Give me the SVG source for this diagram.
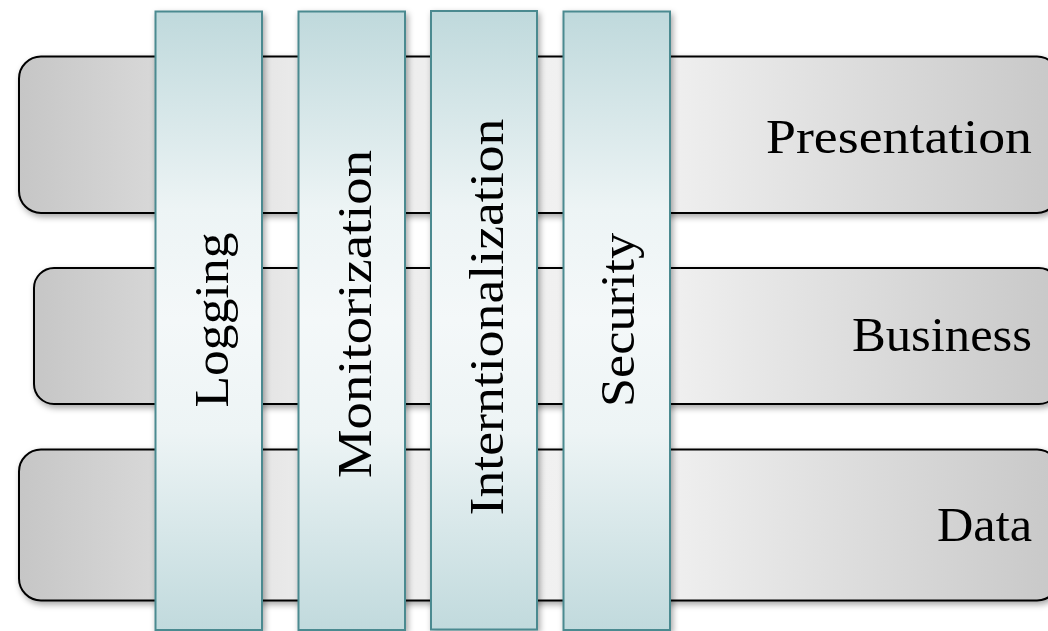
<svg xmlns="http://www.w3.org/2000/svg" width="1048" height="631" viewBox="0 0 1048 631">
  <style>
    .layer { fill: url(#grayGrad); stroke: #000; stroke-width: 2; filter: url(#shadow); }
    .bar { fill: url(#barGrad); stroke: #4b8a90; stroke-width: 2; filter: url(#shadow); }
    .lbl { font-family: "Liberation Serif", "Times New Roman", serif; font-size: 49px; fill: #000; }
  </style>
  <defs>
    <linearGradient id="grayGrad" x1="0" y1="0" x2="1" y2="0">
      <stop offset="0" stop-color="#c6c6c6"/>
      <stop offset="0.28" stop-color="#ececec"/>
      <stop offset="0.6" stop-color="#f2f2f2"/>
      <stop offset="1" stop-color="#c8c8c8"/>
    </linearGradient>
    <linearGradient id="barGrad" x1="0" y1="0" x2="0" y2="1">
      <stop offset="0" stop-color="#bfd9dc"/>
      <stop offset="0.32" stop-color="#edf4f5"/>
      <stop offset="0.5" stop-color="#f4f8f9"/>
      <stop offset="0.68" stop-color="#edf4f5"/>
      <stop offset="1" stop-color="#c1dadd"/>
    </linearGradient>
    <filter id="shadow" x="-10%" y="-10%" width="130%" height="130%">
      <feDropShadow dx="2" dy="3" stdDeviation="3" flood-color="#000" flood-opacity="0.35"/>
    </filter>
  </defs>

  <g id="presentation">
    <rect class="layer" x="19" y="56.5" width="1040" height="156.5" rx="22" ry="22"/>
    <text class="lbl" x="1032" y="153" text-anchor="end" textLength="266" lengthAdjust="spacingAndGlyphs">Presentation</text>
  </g>
  <g id="business">
    <rect class="layer" x="34" y="268" width="1025" height="136" rx="20" ry="20"/>
    <text class="lbl" x="1032" y="351" text-anchor="end" textLength="180" lengthAdjust="spacingAndGlyphs">Business</text>
  </g>
  <g id="data">
    <rect class="layer" x="19" y="449.5" width="1040" height="151" rx="22" ry="22"/>
    <text class="lbl" x="1032" y="541" text-anchor="end" textLength="95" lengthAdjust="spacingAndGlyphs">Data</text>
  </g>

  <g id="logging">
    <rect class="bar" x="155.5" y="11.5" width="106.5" height="618.5"/>
    <text class="lbl" transform="translate(228,320) rotate(-90)" text-anchor="middle" textLength="175" lengthAdjust="spacingAndGlyphs">Logging</text>
  </g>
  <g id="monitorization">
    <rect class="bar" x="298.5" y="11.5" width="106.5" height="618.5"/>
    <text class="lbl" transform="translate(371,314) rotate(-90)" text-anchor="middle" textLength="328" lengthAdjust="spacingAndGlyphs">Monitorization</text>
  </g>
  <g id="internationalization">
    <rect class="bar" x="431" y="11" width="106" height="618.5"/>
    <text class="lbl" transform="translate(503,317) rotate(-90)" text-anchor="middle" textLength="397" lengthAdjust="spacingAndGlyphs">Interntionalization</text>
  </g>
  <g id="security">
    <rect class="bar" x="563.5" y="11.5" width="106.5" height="618.5"/>
    <text class="lbl" transform="translate(634,320) rotate(-90)" text-anchor="middle" textLength="174" lengthAdjust="spacingAndGlyphs">Security</text>
  </g>

  <g id="connectors"/>
</svg>
